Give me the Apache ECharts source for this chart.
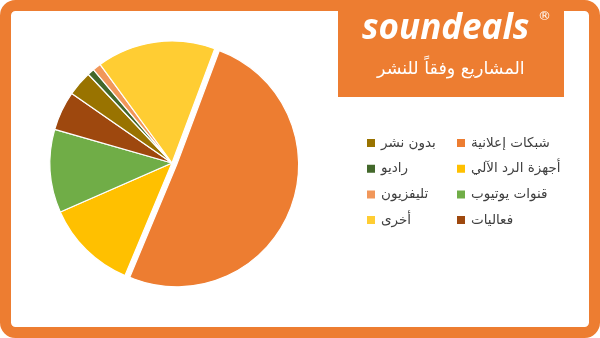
<!DOCTYPE html>
<html>
<head>
<meta charset="utf-8">
<script src="https://cdn.jsdelivr.net/npm/echarts@6/dist/echarts.min.js"></script>
<style>
  html, body { margin: 0; padding: 0; background: #fff; }
  #main { width: 600px; height: 338px; }
</style>
</head>
<body>
<div id="main"></div>
<script>
// بيانات الرسم
var categories = ['شبكات إعلانية', 'أجهزة الرد الآلي', 'قنوات يوتيوب', 'فعاليات', 'بدون نشر', 'راديو', 'تليفزيون', 'أخرى'];
var values = [50.5, 12.1, 11.0, 5.2, 3.3, 0.9, 1.1, 15.7];
var colors = ['#ED7D31', '#FFC000', '#70AD47', '#9E480E', '#997300', '#43682B', '#F1975A', '#FFCD33'];
var explodedIndex = 0;

var myChart = echarts.init(document.getElementById('main'));

var pieData = categories.map(function (name, i) {
    var item = {
        name: name,
        value: values[i],
        itemStyle: { color: colors[i] },
        select: { itemStyle: { color: colors[i] } }
    };
    if (i === explodedIndex) item.selected = true;
    return item;
});

var legendCommon = {
    orient: 'vertical',
    icon: 'rect',
    padding: 0,
    itemWidth: 10,
    itemHeight: 10,
    itemGap: 11.7,
    selectedMode: false,
    textStyle: {
        color: '#404040',
        fontSize: 13.5,
        lineHeight: 14,
        fontFamily: 'DejaVu Sans'
    }
};

var option = {
    animation: false,
    color: colors,
    tooltip: { show: false },
    legend: [
        Object.assign({}, legendCommon, { left: 455, top: 136, data: categories.slice(0, 4) }),
        Object.assign({}, legendCommon, { left: 365, top: 136, data: categories.slice(4) })
    ],
    graphic: [
        {   // الإطار البرتقالي
            type: 'rect',
            shape: { x: 5.5, y: 5.5, width: 589, height: 327, r: 10 },
            style: { fill: '#fff', stroke: '#ED7D31', lineWidth: 11 },
            z: -10
        },
        {   // صندوق العنوان
            type: 'rect',
            shape: { x: 338, y: 0, width: 226, height: 97 },
            style: { fill: '#ED7D31' },
            z: -5
        },
        {
            type: 'text',
            left: 362,
            top: 12,
            style: {
                text: 'soundeals',
                fill: '#fff',
                font: 'italic bold 35px "Open Sans"'
            }
        },
        {
            type: 'text',
            left: 538,
            top: 10,
            style: {
                text: '®',
                fill: '#fff',
                font: '13px "DejaVu Sans"'
            }
        },
        {
            type: 'text',
            left: 377,
            top: 60,
            style: {
                text: 'المشاريع وفقاً للنشر',
                fill: '#fff',
                font: '17.5px "DejaVu Sans"'
            }
        }
    ],
    series: [{
        name: 'المشاريع',
        type: 'pie',
        center: [172, 163],
        radius: 122,
        startAngle: 69.5,
        clockwise: true,
        selectedMode: 'multiple',
        selectedOffset: 5,
        label: { show: false },
        labelLine: { show: false },
        emphasis: { disabled: true },
        itemStyle: {
            borderColor: '#fff',
            borderWidth: 1.2
        },
        data: pieData
    }]
};

myChart.setOption(option);
</script>
</body>
</html>
